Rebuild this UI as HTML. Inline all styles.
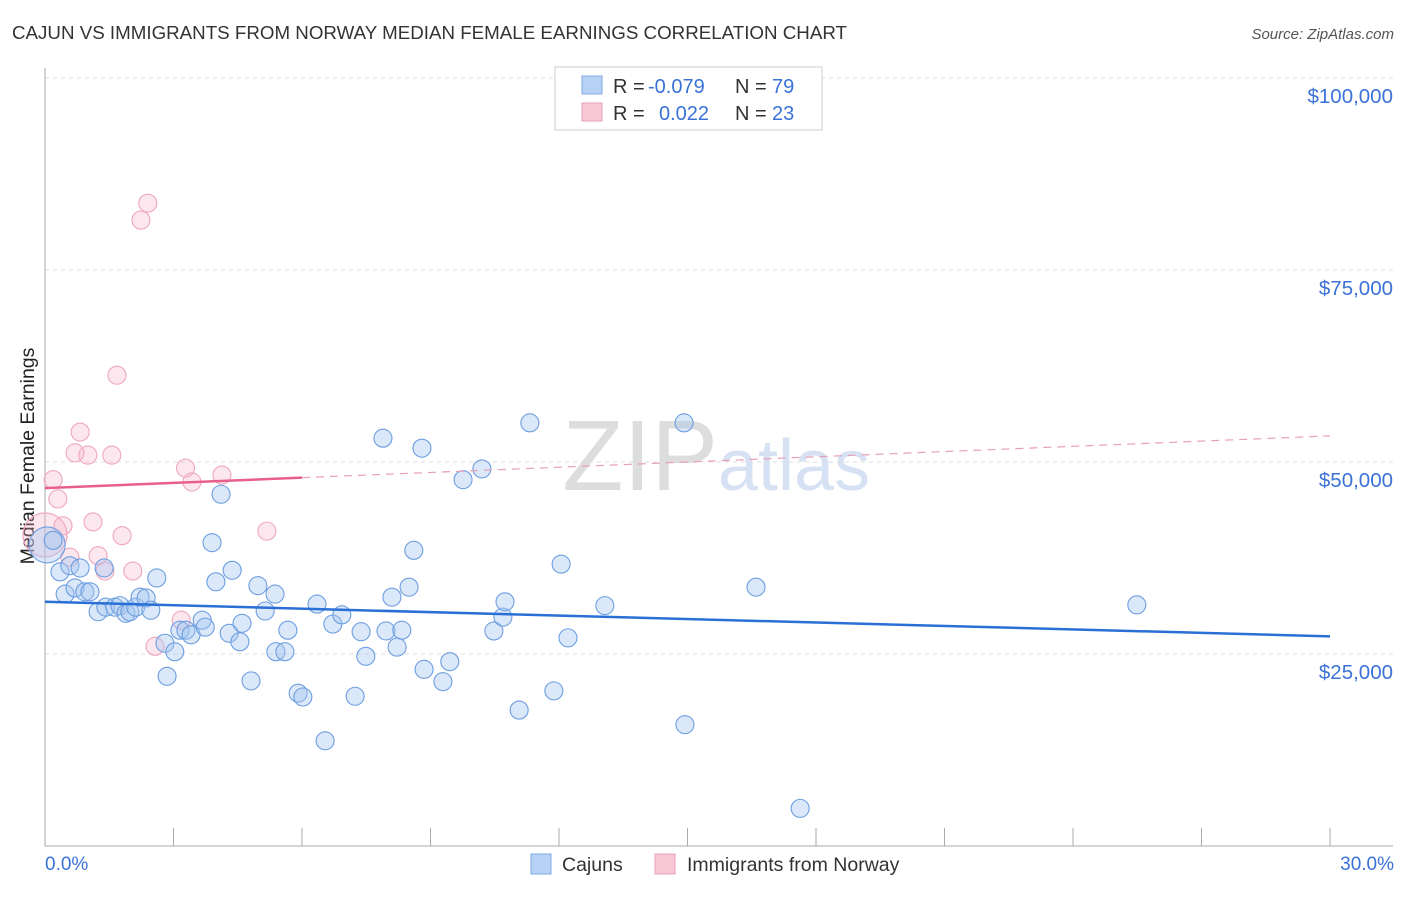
<!DOCTYPE html>
<html><head><meta charset="utf-8"><style>
body{margin:0;background:#fff;font-family:"Liberation Sans",sans-serif;}
svg text{font-family:"Liberation Sans",sans-serif;}
</style></head><body>
<svg width="1406" height="892" viewBox="0 0 1406 892">
<text x="12" y="39" font-size="18.5" fill="#333" textLength="835" lengthAdjust="spacingAndGlyphs">CAJUN VS IMMIGRANTS FROM NORWAY MEDIAN FEMALE EARNINGS CORRELATION CHART</text>
<text x="1394" y="39" font-size="15" fill="#555" font-style="italic" text-anchor="end">Source: ZipAtlas.com</text>
<text x="718" y="490" font-size="100" fill="#ddd" text-anchor="end" font-family="Liberation Serif">ZIP</text>
<text x="718" y="490" font-size="72" fill="#d6e2f3">atlas</text>
<g id="grid"></g>
<line x1="45" y1="68" x2="45" y2="846" stroke="#aaa"/>
<line x1="45" y1="846" x2="1393" y2="846" stroke="#aaa"/>
<g id="ticks"></g>
<text x="34" y="456" font-size="19.5" fill="#222" text-anchor="middle" transform="rotate(-90 34 456)">Median Female Earnings</text>
<text x="45" y="870" font-size="19" fill="#3a72d8">0.0%</text>
<text x="1394" y="870" font-size="19" fill="#3a72d8" text-anchor="end">30.0%</text>
<g id="pts"></g>
<g id="lines"></g>
<g>
<rect x="555" y="67" width="267" height="63" fill="#fff" stroke="#ccc"/>
<rect x="582" y="76" width="20" height="18" fill="#b8d2f5" stroke="#7fa8e6"/>
<rect x="582" y="103" width="20" height="18" fill="#f8c8d6" stroke="#eba0b8"/>
<text x="613" y="93" font-size="20" fill="#333">R =</text>
<text x="648" y="93" font-size="20" fill="#3a72d8">-0.079</text>
<text x="735" y="93" font-size="20" fill="#333">N =</text>
<text x="772" y="93" font-size="20" fill="#3a72d8">79</text>
<text x="613" y="120" font-size="20" fill="#333">R =</text>
<text x="659" y="120" font-size="20" fill="#3a72d8">0.022</text>
<text x="735" y="120" font-size="20" fill="#333">N =</text>
<text x="772" y="120" font-size="20" fill="#3a72d8">23</text>
</g>
<g>
<rect x="531" y="854" width="20" height="20" fill="#b8d2f5" stroke="#7fa8e6"/>
<text x="562" y="871" font-size="19.5" fill="#333">Cajuns</text>
<rect x="655" y="854" width="20" height="20" fill="#f8c8d6" stroke="#eba0b8"/>
<text x="687" y="871" font-size="19.5" fill="#333">Immigrants from Norway</text>
</g>
</svg>
<script>
const yTicks=[25000,50000,75000,100000];
const yTickLabels=["$25,000","$50,000","$75,000","$100,000"];
const blueX=[0.05,0.19,0.35,0.47,0.58,0.70,0.93,0.82,1.05,1.24,1.42,1.38,1.63,1.75,1.89,1.98,2.12,2.22,2.36,2.47,2.61,2.80,2.85,3.03,3.15,3.29,3.41,3.67,3.74,3.90,3.99,4.11,4.30,4.37,4.55,4.60,4.81,4.97,5.14,5.37,5.39,5.60,5.67,5.91,6.02,6.35,6.54,6.72,6.93,7.24,7.49,7.38,7.89,7.96,8.10,8.22,8.33,8.50,8.61,8.80,8.85,9.29,9.45,9.76,10.20,10.48,10.69,10.74,11.07,11.32,11.88,12.05,12.21,13.07,14.92,14.94,16.60,17.63,25.49];
const blueY=[39.2,39.8,35.7,32.8,36.5,33.6,33.1,36.2,33.1,30.5,31.1,36.2,31.1,31.3,30.3,30.5,31.1,32.4,32.3,30.7,34.9,26.4,22.1,25.3,28.1,28.1,27.5,29.4,28.5,39.5,34.4,45.8,27.7,35.9,26.6,29.0,21.5,33.9,30.6,32.8,25.3,25.3,28.1,19.9,19.4,31.5,13.7,28.9,30.1,19.5,24.7,27.9,53.1,28.0,32.4,25.9,28.1,33.7,38.5,51.8,23.0,21.4,24.0,47.7,49.1,28.0,29.8,31.8,17.7,55.1,20.2,36.7,27.1,31.3,55.1,15.8,33.7,4.9,31.4];
const pinkX=[0.19,0.30,0.42,0.58,0.82,0.70,1.00,1.12,1.24,1.40,1.56,1.68,1.80,2.05,2.24,2.40,2.57,3.18,3.28,3.43,4.13,5.18,0.0];
const pinkY=[47.7,45.2,41.7,37.6,53.9,51.2,50.9,42.2,37.8,35.8,50.9,61.3,40.4,35.8,81.5,83.7,26.0,29.4,49.2,47.4,48.3,41.0,40.5];
const blueTrend=[31.8,27.3];
const pinkTrend=[46.6,53.4];
const NS="http://www.w3.org/2000/svg";
const xs=v=>45+v/30*1285, ys=k=>846-k*1000/25000*192;
function mk(t,a,p){const e=document.createElementNS(NS,t);for(const k in a)e.setAttribute(k,a[k]);document.getElementById(p).appendChild(e);return e;}
yTicks.forEach((v,i)=>{
 const g=mk('line',{x1:45,x2:1393,y1:ys(v/1000),y2:ys(v/1000),stroke:'#ddd','stroke-dasharray':'4,4'},'grid');
 
 
 const t=mk('text',{x:1393,y:ys(v/1000)+25,'font-size':20.5,fill:'#3a72d8','text-anchor':'end'},'grid');
 t.textContent=yTickLabels[i];
 
 
});
for(let i=0;i<=10;i++){
 const l=mk('line',{x1:xs(i*3),x2:xs(i*3),y1:828,y2:846,stroke:'#aaa'},'ticks');
 
 
}
pinkX.forEach((x,i)=>{
 const c=mk('circle',{cx:xs(x),cy:ys(pinkY[i]),r:i==pinkX.length-1?22:9,fill:'rgba(245,175,198,0.3)',stroke:'#efa6be','stroke-width':1.1},'pts');
 
 
});
blueX.forEach((x,i)=>{
 const c=mk('circle',{cx:xs(x),cy:ys(blueY[i]),r:i==0?18:9,fill:'rgba(165,198,240,0.4)',stroke:'#6d9ee0','stroke-width':1.1},'pts');
 
 
});
let l=mk('line',{x1:xs(0),x2:xs(30),y1:ys(blueTrend[0]),y2:ys(blueTrend[1]),stroke:'#2a6fd6','stroke-width':2.5},'lines');


const pm=(pinkTrend[1]-pinkTrend[0])/30;
l=mk('line',{x1:xs(0),x2:xs(6),y1:ys(pinkTrend[0]),y2:ys(pinkTrend[0]+pm*6),stroke:'#e8608a','stroke-width':2.5},'lines');


l=mk('line',{x1:xs(6),x2:xs(30),y1:ys(pinkTrend[0]+pm*6),y2:ys(pinkTrend[1]),stroke:'#e8a0b8','stroke-width':1.2,'stroke-dasharray':'8,6'},'lines');


</script>
</body></html>
